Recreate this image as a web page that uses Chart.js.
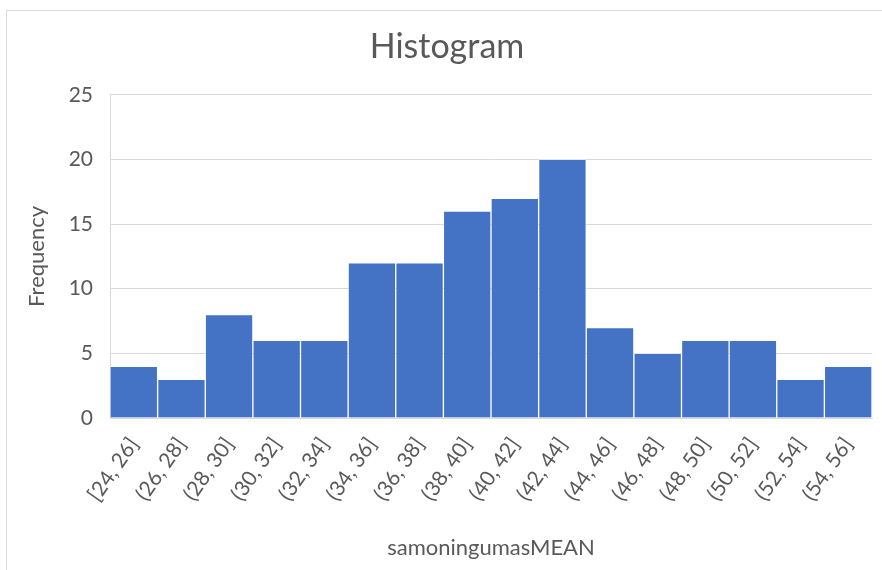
<!DOCTYPE html>
<html>
<head>
<meta charset="utf-8">
<script src="https://cdn.jsdelivr.net/npm/chart.js@4"></script>
<style>
    html, body { margin: 0; padding: 0; background: #fff; }
    #wrap { width: 882px; height: 570px; }
</style>
</head>
<body>
<div id="wrap"><canvas id="histChart" width="882" height="570"></canvas></div>
<script>
// Bins and counts
const bins = ['[24, 26]', '(26, 28]', '(28, 30]', '(30, 32]', '(32, 34]', '(34, 36]', '(36, 38]', '(38, 40]',
    '(40, 42]', '(42, 44]', '(44, 46]', '(46, 48]', '(48, 50]', '(50, 52]', '(52, 54]', '(54, 56]'];
const counts = [4, 3, 8, 6, 6, 12, 12, 16, 17, 20, 7, 5, 6, 6, 3, 4];
const yTicks = [0, 5, 10, 15, 20, 25];

const textColor = '#595959';
const fontFamily = 'Lato, "Open Sans", sans-serif';

// Thin frame round the whole chart, like the Excel chart border
const framePlugin = {
    id: 'frame',
    beforeDraw(chart) {
        const ctx = chart.ctx;
        ctx.save();
        ctx.fillStyle = '#fff';
        ctx.fillRect(0, 0, chart.width, chart.height);
        ctx.strokeStyle = '#d9d9d9';
        ctx.lineWidth = 1;
        ctx.strokeRect(6.5, 10.5, 880, 564);
        ctx.restore();
    }
};

new Chart(document.getElementById('histChart'), {
    type: 'bar',
    data: {
        labels: bins,
        datasets: [{
            label: 'Frequency',
            data: counts,
            backgroundColor: '#4472C4',
            borderColor: 'rgba(255,255,255,0.3)',
            borderWidth: 1,
            categoryPercentage: 1.0,
            barPercentage: 1.0
        }]
    },
    options: {
        responsive: false,
        animation: false,
        layout: { padding: { left: 22, right: 10, top: 0, bottom: 0 } },
        plugins: {
            legend: { display: false },
            tooltip: { enabled: false },
            title: {
                display: true,
                text: 'Histogram',
                color: textColor,
                font: { family: fontFamily, size: 34, weight: 'normal' },
                padding: { top: 27, bottom: 27 }
            }
        },
        scales: {
            x: {
                grid: { display: false },
                border: { display: true, color: '#d9d9d9', width: 1 },
                ticks: {
                    color: textColor,
                    font: { family: fontFamily, size: 21 },
                    minRotation: 55,
                    maxRotation: 55,
                    padding: 7,
                    autoSkip: false
                },
                title: {
                    display: true,
                    text: 'samoningumasMEAN',
                    color: textColor,
                    font: { family: fontFamily, size: 22 },
                    padding: { top: 4, bottom: 9 }
                },
                afterFit(scale) { scale.height = 152; }
            },
            y: {
                min: 0,
                max: 25,
                afterBuildTicks(scale) { scale.ticks = yTicks.map(v => ({ value: v })); },
                grid: { color: '#d9d9d9', lineWidth: 1, drawTicks: false },
                border: { display: true, color: '#d9d9d9', width: 1 },
                ticks: {
                    color: textColor,
                    font: { family: fontFamily, size: 21 },
                    padding: 17
                },
                title: {
                    display: true,
                    text: 'Frequency',
                    color: textColor,
                    font: { family: fontFamily, size: 22 },
                    padding: { top: 2, bottom: 0 }
                },
                afterFit(scale) { scale.width = 88; }
            }
        }
    },
    plugins: [framePlugin]
});
</script>
</body>
</html>
